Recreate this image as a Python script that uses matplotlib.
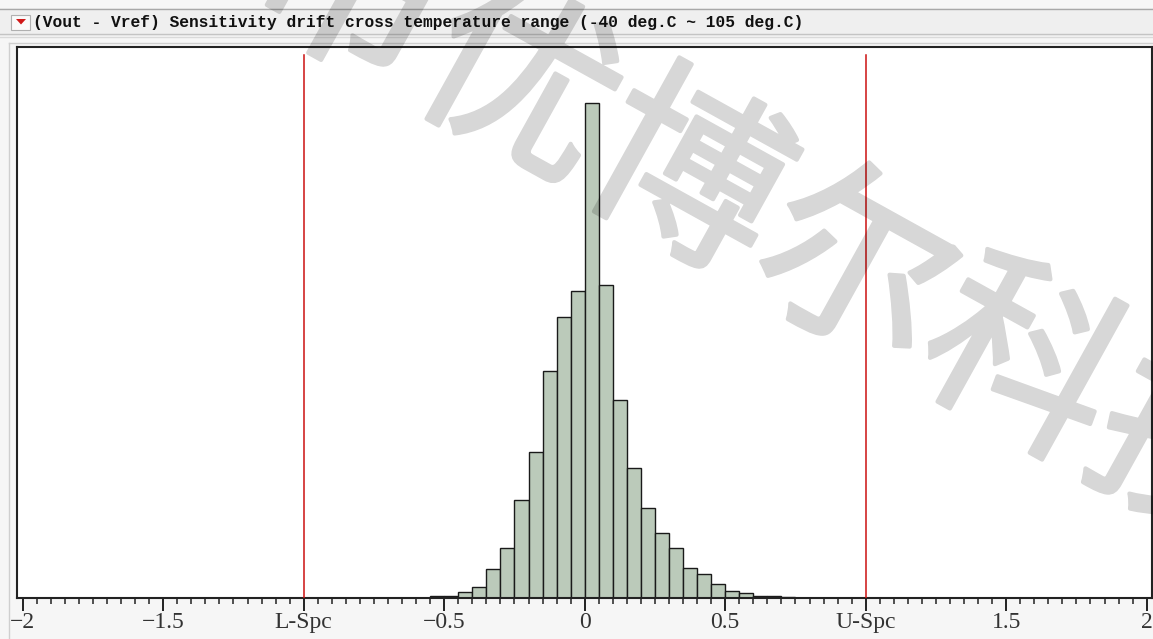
import matplotlib
matplotlib.use("Agg")
import matplotlib.pyplot as plt
import matplotlib.ticker as mticker
import matplotlib.patheffects as pe
from matplotlib.patches import Rectangle, Polygon
from matplotlib.lines import Line2D

# ---------------------------------------------------------------
# data (bin left edge, bin width 0.05)
# ---------------------------------------------------------------
bin_left = [-0.55, -0.50, -0.45, -0.40, -0.35, -0.30, -0.25, -0.20, -0.15,
            -0.10, -0.05, 0.00, 0.05, 0.10, 0.15, 0.20, 0.25, 0.30, 0.35,
            0.40, 0.45, 0.50, 0.55, 0.60, 0.65, 0.70]
counts = [5, 5, 12, 23, 58, 101, 197, 293, 455,
          563, 615, 990, 627, 397, 261, 181, 131, 101, 61,
          48, 28, 15, 10, 5, 5, 2]
bin_width = 0.05

spec_limits = [-1.0, 1.0]
tick_pos = [-2, -1.5, -1, -0.5, 0, 0.5, 1, 1.5, 2]
tick_labels = ["\u22122", "\u22121.5", "L-Spc", "\u22120.5", "0", "0.5",
               "U-Spc", "1.5", "2"]

titel = "(Vout - Vref) Sensitivity drift cross temperature range (-40 deg.C ~ 105 deg.C)"
wasserzeichen = "市优博尔科技"

W, H = 1153, 639
BALKEN = "#bbcaba"
ROT = "#cc1111"


def fx(px):
    return px / W


def fy(py):
    return 1 - py / H


def halbtransparent(img, dpi):
    # Wasserzeichen erst deckend zeichnen, dann gleichmäßig transparent machen
    out = img.copy()
    out[..., 3] *= 0.16
    return out, 0, 0


fig = plt.figure(figsize=(W / 100, H / 100), dpi=100, facecolor="#f6f6f6")

# Titelleiste
fig.patches.append(Rectangle((0, fy(36)), 1, fy(8) - fy(36), transform=fig.transFigure,
                             facecolor="#efefef", edgecolor="none", zorder=0))
for yy, c in [(8.5, "#a8a8a8"), (34, "#c4c4c4"), (37, "#dadada")]:
    fig.lines.append(Line2D([0, 1], [fy(yy), fy(yy)], transform=fig.transFigure,
                            color=c, lw=1))
fig.lines.append(Line2D([fx(9), 1], [fy(43), fy(43)], transform=fig.transFigure,
                        color="#cfcfcf", lw=1))
fig.lines.append(Line2D([fx(9), fx(9)], [fy(43), 0], transform=fig.transFigure,
                        color="#cfcfcf", lw=1))

# rotes Dreieck-Symbol
fig.patches.append(Rectangle((fx(11), fy(30)), fx(19), fy(15) - fy(30),
                             transform=fig.transFigure, facecolor="#fafafa",
                             edgecolor="#b0b0b0", lw=0.8))
fig.patches.append(Polygon([(fx(16), fy(19)), (fx(26), fy(19)), (fx(21), fy(24.5))],
                           closed=True, transform=fig.transFigure,
                           facecolor="#d01818", edgecolor="none"))
fig.text(fx(33), fy(22.5), titel, fontfamily="Liberation Mono", fontweight="bold",
         fontsize=11.7, color="#111111", ha="left", va="center")

# Diagrammfläche
links, rechts, oben, unten = 16.7, 1151.7, 47, 598
ax = fig.add_axes([fx(links), fy(unten), fx(rechts - links), fy(oben) - fy(unten)])
ax.set_facecolor("white")

ax.bar(bin_left, counts, width=bin_width, align="edge", color=BALKEN,
       edgecolor="#1a1a1a", linewidth=1.0, zorder=2)
for s in spec_limits:
    ax.axvline(s, ymin=0, ymax=543 / 551, color=ROT, lw=1.1, zorder=3)

ax.set_xlim(-2.0214, 2.0178)
ax.set_ylim(0, max(counts) * 551 / 495)
ax.set_yticks([])
ax.set_xticks(tick_pos)
ax.set_xticklabels(tick_labels, fontfamily="Liberation Serif", fontsize=17,
                   color="#333333")
ax.xaxis.set_minor_locator(mticker.MultipleLocator(0.05))
ax.tick_params(axis="x", which="major", direction="out", length=9, width=1.4,
               pad=1, color="#222222")
ax.tick_params(axis="x", which="minor", direction="out", length=4.5, width=1.1,
               color="#222222")
for sp in ax.spines.values():
    sp.set_color("#222222")
    sp.set_linewidth(1.5)

# Wasserzeichen
wz = fig.text(fx(768), fy(228), wasserzeichen, fontfamily=["Noto Sans CJK SC"],
              fontsize=138, rotation=-29, color="black",
              ha="center", va="center", zorder=10,
              path_effects=[pe.withStroke(linewidth=3, foreground="black")])
wz.set_agg_filter(halbtransparent)

fig.savefig("out.png", dpi=100, facecolor=fig.get_facecolor())
